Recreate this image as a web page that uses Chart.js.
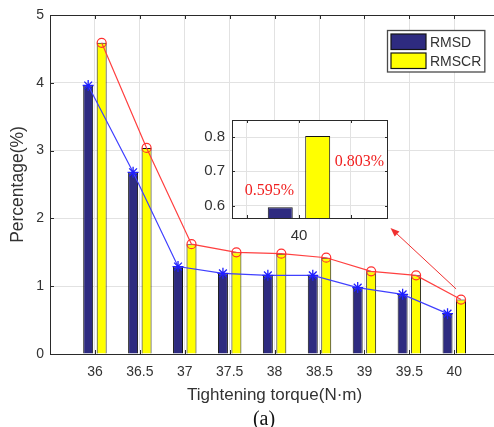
<!DOCTYPE html>
<html>
<head>
<meta charset="utf-8">
<script src="https://cdn.jsdelivr.net/npm/chart.js@4.4.1/dist/chart.umd.min.js"></script>
<style>
  html, body { margin: 0; padding: 0; background: #fff; overflow: hidden; }
  #wrap { position: relative; width: 494px; height: 427px; overflow: hidden; }
  #main { position: absolute; left: 0; top: 0; }
  #inset { position: absolute; left: 190px; top: 104px; }
  #caption { position: absolute; left: 234px; width: 60px; top: 407px; line-height: 22px;
             text-align: center; font: 20px "Liberation Serif", "Times New Roman", serif; color: #111; }
</style>
</head>
<body>
<div id="wrap">
  <canvas id="main" width="506" height="427"></canvas>
  <canvas id="inset" width="200" height="146"></canvas>
  <div id="caption">(a)</div>
</div>
<script>
const TORQUE = [36, 36.5, 37, 37.5, 38, 38.5, 39, 39.5, 40];
const RMSD = [3.96, 2.68, 1.29, 1.19, 1.16, 1.16, 0.98, 0.88, 0.595];
const RMSCR = [4.59, 3.04, 1.62, 1.50, 1.48, 1.42, 1.22, 1.16, 0.803];
const SERIES = ["RMSD", "RMSCR"];
const Y_TICKS = [0, 1, 2, 3, 4, 5];
const INSET_X_TICKS = [39.5, 40, 40.5];
const INSET_Y_TICKS = [0.6, 0.7, 0.8];

const NAVY = "#2e2b80";
const YELLOW = "#ffff00";
const EDGE = "#141414";
const GRID = "#e2e2e2";
const AXIS = "#2a2a2a";
const TEXT = "#333";
const SANS = "'Liberation Sans', Arial, sans-serif";

const pts = vals => TORQUE.map((t, i) => ({ x: t, y: vals[i] }));
const fixTicks = list => s => { s.ticks = list.map(v => ({ value: v })); };

// line points sit on top of their bar, not on the category centre
const followBars = {
    id: "followBars",
    afterDatasetsUpdate(chart) {
        chart.data.datasets.forEach((ds, i) => {
            if (ds.followBar == null) return;
            const bars = chart.getDatasetMeta(ds.followBar).data;
            chart.getDatasetMeta(i).data.forEach((p, j) => { if (bars[j]) p.x = bars[j].x; });
        });
    }
};

// matlab style box with inner ticks
const frame = {
    id: "frame",
    beforeDraw(chart, args, o) {
        if (!o.fill) return;
        const a = chart.chartArea;
        chart.ctx.save();
        chart.ctx.fillStyle = o.fill;
        chart.ctx.fillRect(a.left, a.top, a.width, a.height);
        chart.ctx.restore();
    },
    afterDatasetsDraw(chart, args, o) {
        const ctx = chart.ctx, a = chart.chartArea, L = o.tickLen || 4;
        ctx.save();
        ctx.strokeStyle = AXIS;
        ctx.lineWidth = 1;
        ctx.beginPath();
        chart.scales.x.ticks.forEach(t => {
            const px = Math.round(chart.scales.x.getPixelForValue(t.value)) + 0.5;
            ctx.moveTo(px, a.top); ctx.lineTo(px, a.top + L);
            ctx.moveTo(px, a.bottom); ctx.lineTo(px, a.bottom - L);
        });
        chart.scales.y.ticks.forEach(t => {
            const py = Math.round(chart.scales.y.getPixelForValue(t.value)) + 0.5;
            ctx.moveTo(a.left, py); ctx.lineTo(a.left + L, py);
            ctx.moveTo(a.right, py); ctx.lineTo(a.right - L, py);
        });
        ctx.stroke();
        ctx.strokeRect(Math.round(a.left) + 0.5, Math.round(a.top) + 0.5,
                       Math.round(a.width) - 1, Math.round(a.height));
        ctx.restore();
    }
};

const boxLegend = {
    id: "boxLegend",
    afterDraw(chart, args, o) {
        if (!o.show) return;
        const ctx = chart.ctx, a = chart.chartArea;
        const items = chart.data.datasets.filter(d => d.type !== "line");
        ctx.save();
        ctx.font = o.font;
        const tw = Math.max(...items.map(d => ctx.measureText(d.label).width));
        const w = o.pad + o.swW + o.gap + tw + o.pad;
        const h = o.pad * 2 + items.length * o.row - (o.row - o.swH);
        const x = Math.round(a.right - o.right - w) + 0.5, y = Math.round(a.top + o.top) + 0.5;
        ctx.fillStyle = "#fff";
        ctx.fillRect(x, y, w, h);
        ctx.strokeStyle = "#4a4a4a";
        ctx.lineWidth = 1.3;
        ctx.strokeRect(x, y, w, h);
        items.forEach((d, i) => {
            const sy = y + o.pad + i * o.row;
            ctx.fillStyle = d.backgroundColor;
            ctx.fillRect(x + o.pad, sy, o.swW, o.swH);
            ctx.strokeStyle = EDGE;
            ctx.lineWidth = 1.2;
            ctx.strokeRect(x + o.pad, sy, o.swW, o.swH);
            ctx.fillStyle = TEXT;
            ctx.textBaseline = "middle";
            ctx.fillText(d.label, x + o.pad + o.swW + o.gap, sy + o.swH / 2 + 1);
        });
        ctx.restore();
    }
};

const arrow = {
    id: "arrow",
    afterDraw(chart, args, o) {
        if (!o.from) return;
        const sx = chart.scales.x, sy = chart.scales.y, ctx = chart.ctx;
        const x1 = sx.getPixelForValue(o.from[0]), y1 = sy.getPixelForValue(o.from[1]);
        const x2 = sx.getPixelForValue(o.to[0]), y2 = sy.getPixelForValue(o.to[1]);
        const ang = Math.atan2(y2 - y1, x2 - x1), hl = 9, hw = 3.5;
        ctx.save();
        ctx.strokeStyle = ctx.fillStyle = "#f03030";
        ctx.lineWidth = 1;
        ctx.beginPath();
        ctx.moveTo(x1, y1);
        ctx.lineTo(x2 - Math.cos(ang) * hl, y2 - Math.sin(ang) * hl);
        ctx.stroke();
        ctx.beginPath();
        ctx.moveTo(x2, y2);
        ctx.lineTo(x2 - Math.cos(ang) * hl + Math.sin(ang) * hw, y2 - Math.sin(ang) * hl - Math.cos(ang) * hw);
        ctx.lineTo(x2 - Math.cos(ang) * hl - Math.sin(ang) * hw, y2 - Math.sin(ang) * hl + Math.cos(ang) * hw);
        ctx.closePath();
        ctx.fill();
        ctx.restore();
    }
};

const valueLabels = {
    id: "valueLabels",
    afterDatasetsDraw(chart, args, o) {
        if (!o.at) return;
        const ctx = chart.ctx;
        ctx.save();
        ctx.font = "16px 'Liberation Serif', 'Times New Roman', serif";
        ctx.fillStyle = "#f02020";
        ctx.textAlign = "center";
        ctx.textBaseline = "middle";
        chart.data.datasets.forEach((ds, i) => {
            const p = o.at[i];
            ctx.fillText(ds.data[0].y.toFixed(3) + "%",
                chart.scales.x.getPixelForValue(p[0]), chart.scales.y.getPixelForValue(p[1]));
        });
        ctx.restore();
    }
};

Chart.register(followBars, frame, boxLegend, arrow, valueLabels);

new Chart(document.getElementById("main"), {
    type: "bar",
    data: {
        datasets: [
            {
                type: "line", label: "RMSD line", data: pts(RMSD), followBar: 2, order: 0,
                borderColor: "#4040ff", borderWidth: 1.2, tension: 0,
                pointStyle: "star", pointRadius: 5.5, pointBorderColor: "#1f1fff",
                pointBorderWidth: 1.3, pointBackgroundColor: "#1f1fff"
            },
            {
                type: "line", label: "RMSCR line", data: pts(RMSCR), followBar: 3, order: 0,
                borderColor: "#ff4040", borderWidth: 1.2, tension: 0,
                pointStyle: "circle", pointRadius: 4.5, pointBorderColor: "#ff3030",
                pointBorderWidth: 1.2, pointBackgroundColor: "rgba(0,0,0,0)"
            },
            { label: SERIES[0], data: pts(RMSD), backgroundColor: NAVY, borderColor: EDGE, borderWidth: 1, order: 1 },
            { label: SERIES[1], data: pts(RMSCR), backgroundColor: YELLOW, borderColor: EDGE, borderWidth: 1, order: 1 }
        ]
    },
    options: {
        responsive: false,
        animation: false,
        layout: { padding: { top: 15, right: 0, left: 0, bottom: 0 } },
        datasets: { bar: { categoryPercentage: 0.6, barPercentage: 0.74 } },
        scales: {
            x: {
                type: "linear", min: 35.5, max: 40.5, offset: false,
                afterBuildTicks: fixTicks(TORQUE),
                afterFit: s => { s.height = 73; },
                ticks: { color: TEXT, font: { family: SANS, size: 14 }, padding: 10, maxRotation: 0, autoSkip: false, callback: v => String(v) },
                grid: { color: GRID, drawTicks: false, offset: false },
                border: { display: false },
                title: { display: true, text: "Tightening torque(N·m)", color: TEXT, font: { family: SANS, size: 17 }, padding: { top: 0, bottom: 21 } }
            },
            y: {
                min: 0, max: 5,
                afterBuildTicks: fixTicks(Y_TICKS),
                afterFit: s => { s.width = 50; },
                ticks: { color: TEXT, font: { family: SANS, size: 14 }, padding: 6 },
                grid: { color: GRID, drawTicks: false },
                border: { display: false },
                title: { display: true, text: "Percentage(%)", color: TEXT, font: { family: SANS, size: 17.5 }, padding: { top: 8, bottom: 0 } }
            }
        },
        plugins: {
            legend: { display: false },
            tooltip: { enabled: false },
            frame: { tickLen: 4 },
            boxLegend: { show: true, font: "14px " + SANS, pad: 3.5, swW: 35, swH: 15.5, gap: 4, row: 19, right: 15, top: 15 },
            arrow: { from: [40.02, 0.96], to: [39.29, 1.86] }
        }
    }
});

const last = TORQUE.length - 1;
new Chart(document.getElementById("inset"), {
    type: "bar",
    data: {
        datasets: [
            { label: SERIES[0], data: [{ x: TORQUE[last], y: RMSD[last] }], backgroundColor: NAVY, borderColor: EDGE, borderWidth: 1, clip: 0 },
            { label: SERIES[1], data: [{ x: TORQUE[last], y: RMSCR[last] }], backgroundColor: YELLOW, borderColor: EDGE, borderWidth: 1, clip: 0 }
        ]
    },
    options: {
        responsive: false,
        animation: false,
        layout: { padding: { top: 10, right: 2, left: 0, bottom: 0 } },
        datasets: { bar: { categoryPercentage: 1.44, barPercentage: 0.667 } },
        scales: {
            x: {
                type: "linear", min: 39.356, max: 40.856, offset: false,
                afterBuildTicks: fixTicks(INSET_X_TICKS),
                afterFit: s => { s.height = 32; },
                ticks: { color: TEXT, font: { family: SANS, size: 15 }, padding: 9, maxRotation: 0, autoSkip: false, callback: v => v === 40 ? "40" : "" },
                grid: { color: GRID, drawTicks: false, offset: false },
                border: { display: false }
            },
            y: {
                min: 0.5636, max: 0.85,
                afterBuildTicks: fixTicks(INSET_Y_TICKS),
                afterFit: s => { s.width = 42; },
                ticks: { color: TEXT, font: { family: SANS, size: 15 }, padding: 7, callback: v => v.toFixed(1) },
                grid: { color: GRID, drawTicks: false },
                border: { display: false }
            }
        },
        plugins: {
            legend: { display: false },
            tooltip: { enabled: false },
            frame: { fill: "#fff", tickLen: 3 },
            boxLegend: { show: false },
            valueLabels: { at: [[39.716, 0.644], [40.582, 0.729]] }
        }
    }
});
</script>
</body>
</html>
